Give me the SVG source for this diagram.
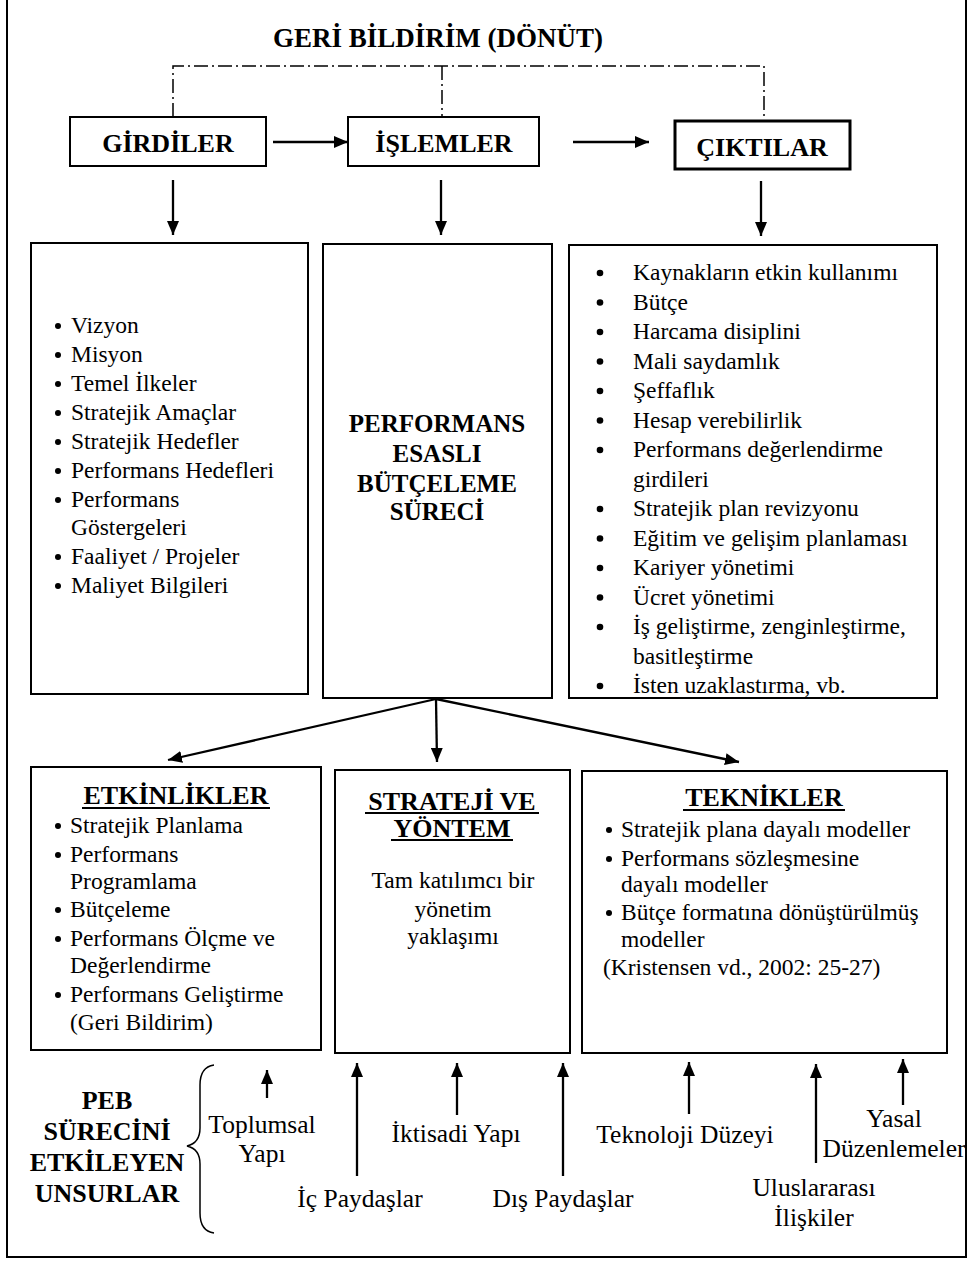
<svg xmlns="http://www.w3.org/2000/svg" width="971" height="1261" viewBox="0 0 971 1261">
<defs>
<marker id="ah" viewBox="0 0 14 12" refX="14" refY="6" markerWidth="14" markerHeight="12" markerUnits="userSpaceOnUse" orient="auto">
<path d="M0,0 L14,6 L0,12 z" fill="#000"/>
</marker>
</defs>
<style>
.box{fill:#fff;stroke:#000;stroke-width:2}
.thick{stroke-width:3}
.b{font-family:"Liberation Serif","Times New Roman",serif;font-weight:bold;fill:#000}
.r{font-family:"Liberation Serif","Times New Roman",serif;fill:#000}
.t27{font-size:27px}
.t26{font-size:26px}
.t25{font-size:25px}
.l{font-size:23.5px}
.bl{font-size:25.5px}
.c{text-anchor:middle}
.arr{stroke:#000;stroke-width:2.3;fill:none;marker-end:url(#ah)}
.dd{stroke:#000;stroke-width:1.5;fill:none;stroke-dasharray:14 4 2 4}
.ul{stroke:#000;stroke-width:2}
</style>
<rect x="7" y="-5" width="959" height="1262" fill="none" stroke="#000" stroke-width="2"/>
<text class="b t27 c" x="438" y="47">GERİ BİLDİRİM (DÖNÜT)</text>

<g id="girdiler">
<rect class="box" x="70" y="117" width="196" height="49"/>
<text class="b t26 c" x="168" y="152">GİRDİLER</text>
</g>
<g id="islemler">
<rect class="box" x="348" y="117" width="191" height="49"/>
<text class="b t26 c" x="444" y="152">İŞLEMLER</text>
</g>
<g id="ciktilar">
<rect class="box thick" x="675" y="121" width="175" height="48"/>
<text class="b t26 c" x="762" y="156">ÇIKTILAR</text>
</g>

<g id="girdiler-list">
<rect class="box" x="31" y="243" width="277" height="451"/>
<g class="r l">
<text x="71" y="333">Vizyon</text>
<text x="71" y="362">Misyon</text>
<text x="71" y="391">Temel İlkeler</text>
<text x="71" y="420">Stratejik Amaçlar</text>
<text x="71" y="449">Stratejik Hedefler</text>
<text x="71" y="478">Performans Hedefleri</text>
<text x="71" y="507">Performans</text>
<text x="71" y="535">Göstergeleri</text>
<text x="71" y="564">Faaliyet / Projeler</text>
<text x="71" y="593">Maliyet Bilgileri</text>
</g>
<g fill="#000">
<circle cx="58" cy="326" r="3"/><circle cx="58" cy="355" r="3"/><circle cx="58" cy="384" r="3"/><circle cx="58" cy="413" r="3"/><circle cx="58" cy="442" r="3"/><circle cx="58" cy="471" r="3"/><circle cx="58" cy="500" r="3"/><circle cx="58" cy="557" r="3"/><circle cx="58" cy="586" r="3"/>
</g>
</g>

<g id="peb-sureci">
<rect class="box" x="323" y="244" width="229" height="454"/>
<text class="b t25 c" x="437" y="432">PERFORMANS</text>
<text class="b t25 c" x="437" y="462">ESASLI</text>
<text class="b t25 c" x="437" y="492">BÜTÇELEME</text>
<text class="b t25 c" x="437" y="520">SÜRECİ</text>
</g>

<g id="ciktilar-list">
<rect class="box" x="569" y="245" width="368" height="453"/>
<g class="r l">
<text x="633" y="280">Kaynakların etkin kullanımı</text>
<text x="633" y="309.5">Bütçe</text>
<text x="633" y="339">Harcama disiplini</text>
<text x="633" y="368.5">Mali saydamlık</text>
<text x="633" y="398">Şeffaflık</text>
<text x="633" y="427.5">Hesap verebilirlik</text>
<text x="633" y="457">Performans değerlendirme</text>
<text x="633" y="486.5">girdileri</text>
<text x="633" y="516">Stratejik plan revizyonu</text>
<text x="633" y="545.5">Eğitim ve gelişim planlaması</text>
<text x="633" y="575">Kariyer yönetimi</text>
<text x="633" y="604.5">Ücret yönetimi</text>
<text x="633" y="634">İş geliştirme, zenginleştirme,</text>
<text x="633" y="663.5">basitleştirme</text>
<text x="633" y="693">İsten uzaklastırma, vb.</text>
</g>
<g fill="#000">
<circle cx="600" cy="273" r="3.3"/><circle cx="600" cy="302.5" r="3.3"/><circle cx="600" cy="332" r="3.3"/><circle cx="600" cy="361.5" r="3.3"/><circle cx="600" cy="391" r="3.3"/><circle cx="600" cy="420.5" r="3.3"/><circle cx="600" cy="450" r="3.3"/><circle cx="600" cy="509" r="3.3"/><circle cx="600" cy="538.5" r="3.3"/><circle cx="600" cy="568" r="3.3"/><circle cx="600" cy="597.5" r="3.3"/><circle cx="600" cy="627" r="3.3"/><circle cx="600" cy="686" r="3.3"/>
</g>
<rect x="570" y="698" width="367" height="8" fill="#fff"/>
<line x1="569" y1="698" x2="937" y2="698" stroke="#000" stroke-width="2"/>
</g>

<g id="etkinlikler">
<rect class="box" x="31" y="767" width="290" height="283"/>
<text class="b t26 c" x="176" y="804">ETKİNLİKLER</text>
<line class="ul" x1="82" y1="808" x2="270" y2="808"/>
<g class="r l">
<text x="70" y="833">Stratejik Planlama</text>
<text x="70" y="862">Performans</text>
<text x="70" y="889">Programlama</text>
<text x="70" y="917">Bütçeleme</text>
<text x="70" y="946">Performans Ölçme ve</text>
<text x="70" y="973">Değerlendirme</text>
<text x="70" y="1002">Performans Geliştirme</text>
<text x="70" y="1030">(Geri Bildirim)</text>
</g>
<g fill="#000">
<circle cx="58" cy="826" r="3"/><circle cx="58" cy="855" r="3"/><circle cx="58" cy="910" r="3"/><circle cx="58" cy="939" r="3"/><circle cx="58" cy="995" r="3"/>
</g>
</g>

<g id="strateji">
<rect class="box" x="335" y="770" width="235" height="283"/>
<text class="b t26 c" x="452" y="810">STRATEJİ VE</text>
<line class="ul" x1="365" y1="813" x2="539" y2="813"/>
<text class="b t26 c" x="452" y="837">YÖNTEM</text>
<line class="ul" x1="391" y1="840" x2="513" y2="840"/>
<text class="r l c" x="453" y="888">Tam katılımcı bir</text>
<text class="r l c" x="453" y="917">yönetim</text>
<text class="r l c" x="453" y="944">yaklaşımı</text>
</g>

<g id="teknikler">
<rect class="box" x="582" y="771" width="365" height="282"/>
<text class="b t26 c" x="764" y="806">TEKNİKLER</text>
<line class="ul" x1="683" y1="810" x2="845" y2="810"/>
<g class="r l">
<text x="621" y="837">Stratejik plana dayalı modeller</text>
<text x="621" y="866">Performans sözleşmesine</text>
<text x="621" y="892">dayalı modeller</text>
<text x="621" y="920">Bütçe formatına dönüştürülmüş</text>
<text x="621" y="947">modeller</text>
<text x="603" y="975">(Kristensen vd., 2002: 25-27)</text>
</g>
<g fill="#000">
<circle cx="609" cy="830" r="3"/><circle cx="609" cy="859" r="3"/><circle cx="609" cy="913" r="3"/>
</g>
</g>

<g id="peb-unsurlar">
<text class="b t26 c" x="107" y="1109">PEB</text>
<text class="b t26 c" x="107" y="1140">SÜRECİNİ</text>
<text class="b t26 c" x="107" y="1171">ETKİLEYEN</text>
<text class="b t26 c" x="107" y="1202">UNSURLAR</text>
<path d="M214,1065 Q200,1067 200,1085 L200,1128 Q200,1143 187,1146 Q200,1149 200,1164 L200,1213 Q200,1231 214,1233" fill="none" stroke="#000" stroke-width="1.5"/>
</g>

<g id="labels" class="r bl c">
<text x="262" y="1133">Toplumsal</text>
<text x="262" y="1162">Yapı</text>
<text x="360" y="1207">İç Paydaşlar</text>
<text x="456" y="1142">İktisadi Yapı</text>
<text x="563" y="1207">Dış Paydaşlar</text>
<text x="685" y="1143">Teknoloji Düzeyi</text>
<text x="814" y="1196">Uluslararası</text>
<text x="814" y="1226">İlişkiler</text>
<text x="894" y="1127">Yasal</text>
<text x="894" y="1157">Düzenlemeler</text>
</g>

<g id="connectors">
<path class="dd" d="M173,117 L173,66 L764,66 L764,121 M442,66 L442,117"/>
<line class="arr" x1="273" y1="142" x2="348" y2="142"/>
<line class="arr" x1="573" y1="142" x2="649" y2="142"/>
<line class="arr" x1="173" y1="180" x2="173" y2="235"/>
<line class="arr" x1="441" y1="180" x2="441" y2="235"/>
<line class="arr" x1="761" y1="181" x2="761" y2="236"/>
<line class="arr" x1="436" y1="699" x2="168" y2="760"/>
<line class="arr" x1="436" y1="699" x2="437" y2="762"/>
<line class="arr" x1="436" y1="699" x2="739" y2="762"/>
<line class="arr" x1="267" y1="1098" x2="267" y2="1070"/>
<line class="arr" x1="357" y1="1176" x2="357" y2="1063"/>
<line class="arr" x1="457" y1="1115" x2="457" y2="1063"/>
<line class="arr" x1="563" y1="1176" x2="563" y2="1063"/>
<line class="arr" x1="689" y1="1114" x2="689" y2="1062"/>
<line class="arr" x1="816" y1="1163" x2="816" y2="1064"/>
<line class="arr" x1="903" y1="1105" x2="903" y2="1059"/>
</g>
</svg>
